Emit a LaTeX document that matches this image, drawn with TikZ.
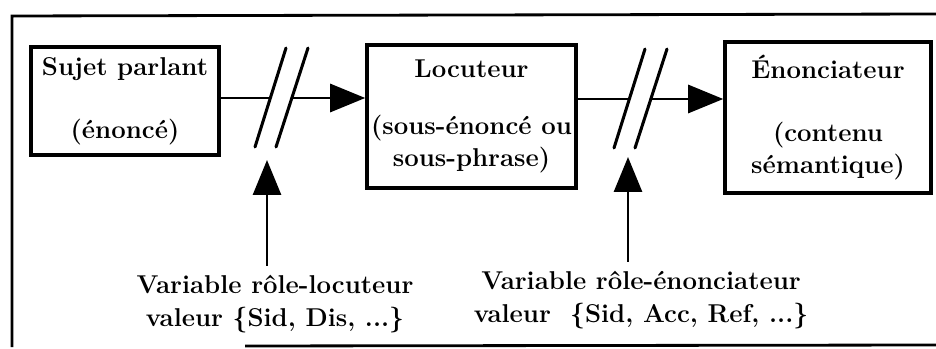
\documentclass[tikz,border=0pt]{standalone}
\usepackage{fontspec}
\usepackage{tikz}
\usetikzlibrary{arrows.meta, calc}

\begin{document}
\begin{tikzpicture}[x=0.03cm, y=-0.03cm,
    every node/.style={font=\bfseries\fontsize{22}{27.5}\selectfont},
    stage/.style={draw, line width=3pt, align=center, inner sep=0pt},
    flow/.style={line width=2.4pt, -{Triangle[length=1.05cm, width=0.84cm]}},
    slash/.style={line width=2.6pt, line cap=round}]
        \useasboundingbox (0,0) rectangle (936,349);
        % Outer frame
        \draw[line width=2.4pt] (936,14) -- (12,16) -- (12,347);
        \draw[line width=2.4pt] (245,346) -- (936,345);
        % Three levels
        \node[stage, minimum width=5.64cm, minimum height=3.24cm]
          (sujet) at (125,101) {Sujet parlant\\[0.93cm](énoncé)};
        \node[stage, minimum width=6.27cm, minimum height=4.29cm]
          (loc) at (471.5,116.5) {Locuteur\\[0.72cm](sous-énoncé ou\\sous-phrase)};
        \node[stage, minimum width=6.18cm, minimum height=4.53cm]
          (enon) at (828,117.5) {Énonciateur\\[0.93cm](contenu\\sémantique)};
        % Breaks on the arrows
        \coordinate (brkA) at (281,98);
        \coordinate (brkB) at (640,99);
        \foreach \b in {brkA, brkB} {
          \draw[slash] ($(\b)+(-26,49)$) -- ($(\b)+(5,-50)$);
          \draw[slash] ($(\b)+(-5,49)$) -- ($(\b)+(27,-50)$);
        }
        \draw[line width=2.4pt] (sujet.east |- brkA) -- ($(brkA)+(-10,0)$);
        \draw[flow] ($(brkA)+(11,0)$) -- (loc.west |- brkA);
        \draw[line width=2.4pt] (loc.east |- brkB) -- ($(brkB)+(-10,0)$);
        \draw[flow] ($(brkB)+(11,0)$) -- (enon.west |- brkB);
        % Role variables
        \node[align=center, inner sep=8pt] (varA) at (275,304)
          {Variable rôle-locuteur\\valeur \{Sid, Dis, ...\}};
        \node[align=center, inner sep=8pt] (varB) at (641,300)
          {Variable rôle-énonciateur\\valeur~~\{Sid, Acc, Ref, ...\}};
        \coordinate (tipA) at (267,160);
        \coordinate (tipB) at (628,157);
        \draw[flow] (varA.north -| tipA) -- (tipA);
        \draw[flow] (varB.north -| tipB) -- (tipB);
      \end{tikzpicture}
\end{document}
